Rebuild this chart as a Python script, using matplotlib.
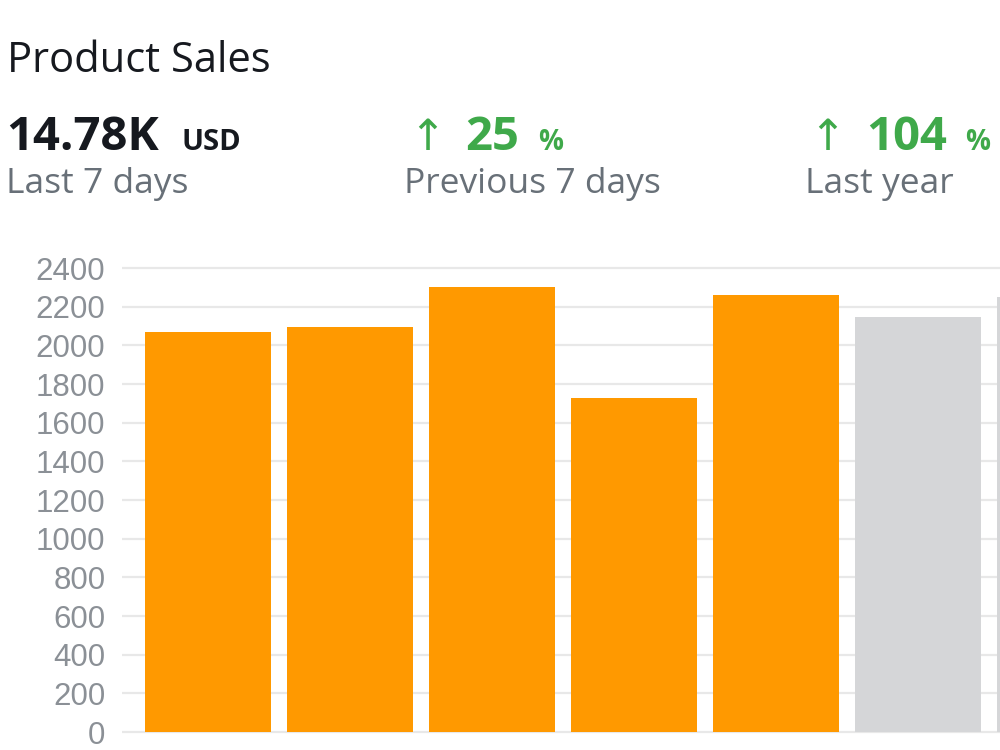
import matplotlib
matplotlib.use("Agg")
from matplotlib import pyplot as plt

days = ["D1", "D2", "D3", "D4", "D5", "D6", "D7"]
sales = [2070, 2094, 2303, 1728, 2263, 2149, 2248]
bar_colors = ["#ff9900", "#ff9900", "#ff9900", "#ff9900", "#ff9900", "#d5d6d8", "#d5d6d8"]
yticks = [0, 200, 400, 600, 800, 1000, 1200, 1400, 1600, 1800, 2000, 2200, 2400]

total_label = "14.78K"
total_unit = "USD"
changes = ["25", "104"]
change_labels = ["Last 7 days", "Previous 7 days", "Last year"]

dark = "#16191f"
grey_txt = "#687078"
green = "#3fa94a"
ui_font = ["Open Sans", "DejaVu Sans"]

fig = plt.figure(figsize=(10, 7.5), dpi=100)

# header
fig.text(0.007, 0.904, "Product Sales", fontsize=30, color=dark, family=ui_font, va="baseline")
fig.text(0.006, 0.800, total_label, fontsize=34, weight="bold", color=dark, family=ui_font, va="baseline")
fig.text(0.181, 0.800, total_unit, fontsize=21, weight="bold", color=dark, family=ui_font, va="baseline")

arrow_x = [0.409, 0.809]
num_x = [0.465, 0.866]
pct_x = [0.538, 0.965]
for i in range(len(changes)):
    fig.text(arrow_x[i], 0.800, "\u2191", fontsize=31, color=green, family=["DejaVu Sans"], va="baseline")
    fig.text(num_x[i], 0.800, changes[i], fontsize=34, weight="bold", color=green, family=ui_font, va="baseline")
    fig.text(pct_x[i], 0.800, "%", fontsize=20, weight="bold", color=green, family=ui_font, va="baseline")

label_x = [0.006, 0.404, 0.805]
for x, lab in zip(label_x, change_labels):
    fig.text(x, 0.743, lab, fontsize=25.5, color=grey_txt, family=ui_font, va="baseline")

# bars
ax = fig.add_axes([0.122, 0.0201, 0.878, 0.6276])
pos = list(range(len(days)))
ax.bar(pos, sales, width=0.887, color=bar_colors, zorder=3)
ax.set_xlim(-0.6056, 5.577)
ax.set_ylim(-15, 2420)
ax.set_yticks(yticks)
ax.set_yticklabels([str(v) for v in yticks], fontsize=22.5, color="#8b9096", family="Liberation Sans")
ax.tick_params(axis="y", length=0, pad=12)
ax.set_xticks([])
ax.grid(axis="y", color="#e8e8e8", linewidth=1.6, zorder=0)
for s in ax.spines.values():
    s.set_visible(False)

fig.savefig("out.png", dpi=100)
